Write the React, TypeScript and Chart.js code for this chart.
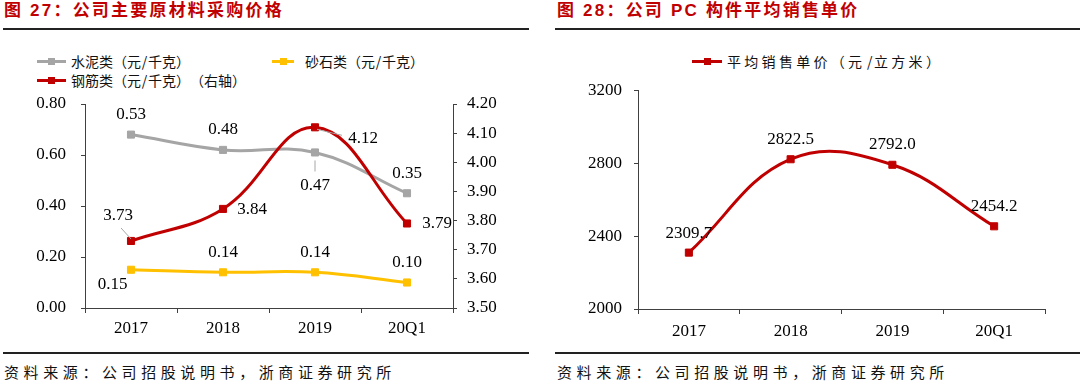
import React, { useEffect, useRef } from 'react';
import { Chart, registerables } from 'chart.js';

Chart.register(...registerables);

// ---------- data ----------
const categories = ['2017', '2018', '2019', '20Q1'];

const cementName = '水泥类（元/千克）';
const sandName = '砂石类（元/千克）';
const steelName = '钢筋类（元/千克）（右轴）';
const pcName = '平均销售单价（元/立方米）';

// plotted positions of the cement series (as drawn) and their printed labels
const cementValues = [0.68, 0.62, 0.61, 0.45];
const cementLabels = ['0.53', '0.48', '0.47', '0.35'];
const sandValues = [0.15, 0.14, 0.14, 0.1];
const steelValues = [3.73, 3.84, 4.12, 3.79];
const pcValues = [2309.7, 2822.5, 2792.0, 2454.2];

const leftAxisRange = [0, 0.8, 0.2];
const rightAxisRange = [3.5, 4.2, 0.1];
const pcAxisRange = [2000, 3200, 400];

const title1 = '图 27：公司主要原材料采购价格';
const title2 = '图 28：公司 PC 构件平均销售单价';
const sourceText = '资料来源：公司招股说明书，浙商证券研究所';

// ---------- styles ----------
const RED = '#C00000';
const GRAY = '#A5A5A5';
const YELLOW = '#FFC000';
const AXIS = '#404040';
const NUM_FONT = { family: '"Liberation Serif", "Times New Roman", serif', size: 17 };
const CJK = '"Noto Sans CJK SC", sans-serif';

// label offsets relative to each point, and optional leader lines [x1,y1,x2,y2]
const cementLabelPos = [[0, -20], [0, -20], [0, 33], [0, -20]];
const cementLeaders = [null, null, [0, 8, 0, 19], null];
const steelLabelPos = [[-13, -25], [29, 1], [48, 11], [30, 0]];
const steelLeaders = [[-10, -13, 0, -2], null, [2, 2, 27, 8], null];
const sandLabelPos = [[-18.5, 15], [0, -20], [0, -20], [0, -19.5]];
const pcLabelPos = [[0, -19], [0, -20], [0, -20], [0, -20]];

const valueLabelPlugin = {
  id: 'valueLabels',
  afterDatasetsDraw(chart: any) {
    const ctx = chart.ctx;
    ctx.save();
    chart.data.datasets.forEach((ds: any, i: number) => {
      const meta = chart.getDatasetMeta(i);
      if (!ds.valueLabels) return;
      meta.data.forEach((pt: any, j: number) => {
        const x = pt.x;
        const y = pt.y;
        const ld = ds.leaders && ds.leaders[j];
        if (ld) {
          ctx.beginPath();
          ctx.strokeStyle = '#A6A6A6';
          ctx.lineWidth = 1;
          ctx.moveTo(x + ld[0], y + ld[1]);
          ctx.lineTo(x + ld[2], y + ld[3]);
          ctx.stroke();
        }
        const off = ds.labelPos[j];
        ctx.fillStyle = '#000';
        ctx.font = `${NUM_FONT.size}px ${NUM_FONT.family}`;
        ctx.textAlign = 'center';
        ctx.textBaseline = 'middle';
        ctx.fillText(ds.valueLabels[j], x + off[0], y + off[1]);
      });
    });
    ctx.restore();
  },
};

function lineDataset(label: string, data: number[], color: string, extra: any) {
  return {
    label,
    data,
    borderColor: color,
    backgroundColor: color,
    borderWidth: 3,
    tension: 0.4,
    pointStyle: 'rect',
    pointRadius: 5,
    pointBorderWidth: 1,
    pointBackgroundColor: color,
    pointBorderColor: color,
    fill: false,
    ...extra,
  };
}

function axisY(range: number[], position: string, width: number, padding: number, extra: any = {}) {
  return {
    position,
    min: range[0],
    max: range[1],
    ticks: {
      stepSize: range[2],
      padding,
      font: NUM_FONT,
      color: '#000',
      callback: (v: any) => (extra.decimals === 0 ? String(Math.round(Number(v))) : Number(v).toFixed(2)),
    },
    grid: { drawOnChartArea: false, drawTicks: true, tickLength: 4, color: AXIS, lineWidth: 1 },
    border: { display: true, color: AXIS, width: 1 },
    afterFit: (s: any) => {
      s.width = width;
      s.paddingTop = 0;
      s.paddingBottom = 0;
    },
  };
}

function axisX(height: number, padding: number) {
  return {
    type: 'category',
    offset: true,
    grid: { offset: true, drawOnChartArea: false, drawTicks: true, tickLength: 5, color: AXIS, lineWidth: 1 },
    border: { display: true, color: AXIS, width: 1 },
    ticks: { font: NUM_FONT, color: '#000', padding, maxRotation: 0, autoSkip: false },
    afterFit: (s: any) => {
      s.height = height;
      s.paddingLeft = 0;
      s.paddingRight = 0;
    },
  };
}

function LeftChart() {
  const ref = useRef<HTMLCanvasElement>(null);
  useEffect(() => {
    const chart = new Chart(ref.current as HTMLCanvasElement, {
      type: 'line',
      data: {
        labels: categories,
        datasets: [
          lineDataset(steelName, steelValues, RED, {
            yAxisID: 'y1',
            order: 0,
            valueLabels: steelValues.map((v) => v.toFixed(2)),
            labelPos: steelLabelPos,
            leaders: steelLeaders,
          }),
          lineDataset(cementName, cementValues, GRAY, {
            yAxisID: 'y',
            order: 1,
            valueLabels: cementLabels,
            labelPos: cementLabelPos,
            leaders: cementLeaders,
          }),
          lineDataset(sandName, sandValues, YELLOW, {
            yAxisID: 'y',
            order: 2,
            valueLabels: sandValues.map((v) => v.toFixed(2)),
            labelPos: sandLabelPos,
          }),
        ] as any,
      },
      options: {
        animation: false,
        responsive: false,
        maintainAspectRatio: false,
        layout: { padding: { top: 14, left: 0, right: 0, bottom: 0 } },
        plugins: { legend: { display: false }, tooltip: { enabled: false } },
        scales: {
          x: axisX(42, 5),
          y: axisY(leftAxisRange, 'left', 85, 15),
          y1: axisY(rightAxisRange, 'right', 87, 10),
        } as any,
      },
      plugins: [valueLabelPlugin],
    });
    return () => chart.destroy();
  }, []);
  return (
    <canvas
      ref={ref}
      width={540}
      height={260}
      style={{ position: 'absolute', left: 0, top: 90, width: 540, height: 260 }}
    />
  );
}

function RightChart() {
  const ref = useRef<HTMLCanvasElement>(null);
  useEffect(() => {
    const chart = new Chart(ref.current as HTMLCanvasElement, {
      type: 'line',
      data: {
        labels: categories,
        datasets: [
          lineDataset(pcName, pcValues, RED, {
            valueLabels: pcValues.map((v) => v.toFixed(1)),
            labelPos: pcLabelPos,
          }),
        ] as any,
      },
      options: {
        animation: false,
        responsive: false,
        maintainAspectRatio: false,
        layout: { padding: { top: 10.5, left: 0, right: 35, bottom: 0 } },
        plugins: { legend: { display: false }, tooltip: { enabled: false } },
        scales: {
          x: axisX(41, 7),
          y: axisY(pcAxisRange, 'left', 98, 12, { decimals: 0 }),
        } as any,
      },
      plugins: [valueLabelPlugin],
    });
    return () => chart.destroy();
  }, []);
  return (
    <canvas
      ref={ref}
      width={540}
      height={270}
      style={{ position: 'absolute', left: 540, top: 80, width: 540, height: 270 }}
    />
  );
}

// monospaced CJK text: each full-width character takes one slot, ASCII half a slot
function SlotText(props: { text: string; x: number; y: number; size: number; pitch: number; color?: string }) {
  const { text, x, y, size, pitch, color } = props;
  return (
    <div
      style={{
        position: 'absolute',
        left: x,
        top: y - 11,
        height: 22,
        lineHeight: '22px',
        fontFamily: CJK,
        fontSize: size,
        color: color || '#111',
        whiteSpace: 'nowrap',
      }}
    >
      {Array.from(text).map((ch, i) => {
        const half = ch.charCodeAt(0) < 0x2000;
        return (
          <span
            key={i}
            style={{
              display: 'inline-block',
              width: half ? pitch / 2 : pitch,
              textAlign: half ? 'center' : 'left',
            }}
          >
            {ch}
          </span>
        );
      })}
    </div>
  );
}

function LegendItem(props: { x: number; y: number; lineW: number; color: string; text: string; textX: number; pitch: number }) {
  const { x, y, lineW, color, text, textX, pitch } = props;
  return (
    <>
      <div style={{ position: 'absolute', left: x, top: y - 1.5, width: lineW, height: 3, background: color }} />
      <div
        style={{ position: 'absolute', left: x + lineW / 2 - 3.5, top: y - 3.5, width: 7, height: 7, background: color }}
      />
      <SlotText text={text} x={textX} y={y} size={14} pitch={pitch} />
    </>
  );
}

function Title(props: { x: number; text: string }) {
  return (
    <div
      style={{
        position: 'absolute',
        left: props.x,
        top: 0,
        height: 22,
        lineHeight: '22px',
        fontFamily: '"Liberation Sans", "Noto Sans CJK SC", sans-serif',
        fontWeight: 'bold',
        fontSize: 17,
        letterSpacing: 2.2,
        color: RED,
        whiteSpace: 'nowrap',
      }}
    >
      {props.text}
    </div>
  );
}

function Rule(props: { x: number; y: number; w: number }) {
  return <div style={{ position: 'absolute', left: props.x, top: props.y, width: props.w, height: 2, background: '#222' }} />;
}

export default function App() {
  return (
    <div
      style={{
        position: 'fixed',
        left: 0,
        top: 0,
        width: 1080,
        height: 384,
        background: '#fff',
        overflow: 'hidden',
      }}
    >
      <Title x={4} text={title1} />
      <Title x={557} text={title2} />
      <Rule x={3} y={28} w={526} />
      <Rule x={555} y={28} w={525} />

      <LegendItem x={37} y={61.3} lineW={29} color={GRAY} text={cementName} textX={71} pitch={14} />
      <LegendItem x={272} y={61.3} lineW={22} color={YELLOW} text={sandName} textX={305} pitch={14} />
      <LegendItem x={37} y={80} lineW={29} color={RED} text={steelName} textX={71} pitch={14} />
      <LegendItem x={692} y={61} lineW={30} color={RED} text={pcName} textX={727} pitch={17.3} />

      <LeftChart />
      <RightChart />

      <Rule x={3} y={352} w={526} />
      <Rule x={555} y={352} w={525} />
      <SlotText text={sourceText} x={4} y={371.5} size={15} pitch={19.6} />
      <SlotText text={sourceText} x={557} y={371.5} size={15} pitch={19.6} />
    </div>
  );
}
